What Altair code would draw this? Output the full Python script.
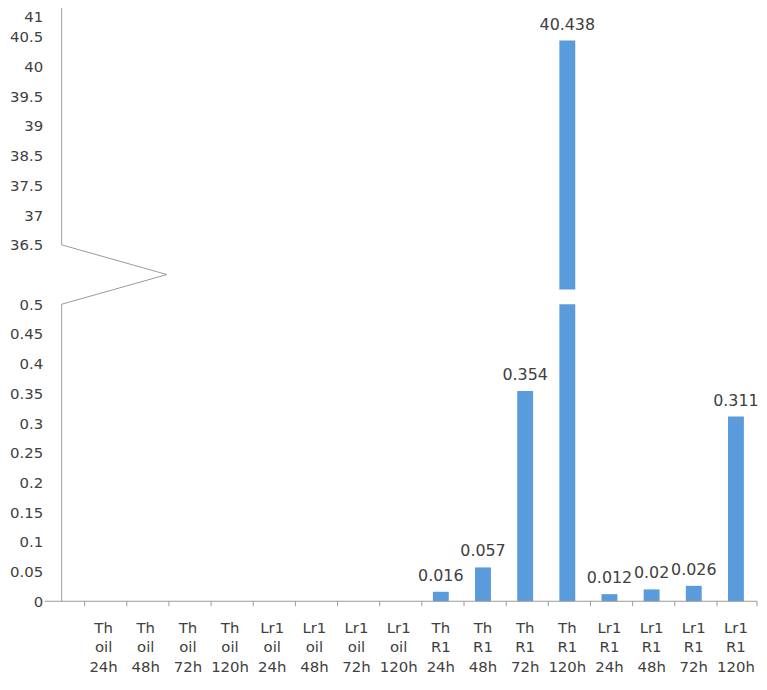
import altair as alt
import pandas as pd

# ---- data ----
categories = [
    "Th oil 24h", "Th oil 48h", "Th oil 72h", "Th oil 120h",
    "Lr1 oil 24h", "Lr1 oil 48h", "Lr1 oil 72h", "Lr1 oil 120h",
    "Th R1 24h", "Th R1 48h", "Th R1 72h", "Th R1 120h",
    "Lr1 R1 24h", "Lr1 R1 48h", "Lr1 R1 72h", "Lr1 R1 120h",
]
values = [0, 0, 0, 0, 0, 0, 0, 0,
          0.016, 0.057, 0.354, 40.438,
          0.012, 0.02, 0.026, 0.311]
value_labels = ["", "", "", "", "", "", "", "",
                "0.016", "0.057", "0.354", "40.438",
                "0.012", "0.02", "0.026", "0.311"]

# y tick labels (broken axis: lower 0..0.5, upper 36.5..41)
lower_ticks = [0, 0.05, 0.1, 0.15, 0.2, 0.25, 0.3, 0.35, 0.4, 0.45, 0.5]
upper_ticks = [36.5, 37, 37.5, 38.5, 39, 39.5, 40, 40.5, 41]

# ---- layout / style ----
W, H = 679, 595
STEP = 29.9
BREAK_LOW = 0.5          # top of lower panel
BREAK_PIECE_VALUE = 9.5  # where the upper bar piece stops inside the break
Y_DOMAIN = [0, 0.5] + upper_ticks
Y_RANGE = [H, H - 10 * STEP] + [H - 12 * STEP - k * STEP for k in range(len(upper_ticks))]
AXIS_X = -21                # x of the drawn y axis line
ZIG_TIP_X = 85
BAR_COLOR = "#5A9BDC"
AXIS_COLOR = "#9a9a9a"
TEXT_COLOR = "#404040"
FONT = "DejaVu Sans"

y_top_start = Y_RANGE[2]    # pixel of 36.5
y_low_end = Y_RANGE[1]      # pixel of 0.5
y_mid = (y_top_start + y_low_end) / 2

df = pd.DataFrame({"cat": categories, "v": values, "lab": value_labels})

xscale = alt.Scale(domain=categories)
yscale = alt.Scale(domain=Y_DOMAIN, range=Y_RANGE, nice=False, zero=False)

top_test = f"datum.value == {max(upper_ticks)}"
xaxis = alt.Axis(labelExpr="split(datum.label, ' ')", labelAngle=0,
                 labelLineHeight=20, labelBaseline="top", labelPadding=19,
                 labelFont=FONT, labelFontSize=15, labelColor=TEXT_COLOR,
                 labelOverlap=False, domain=False, ticks=False, grid=False, title=None)
yaxis = alt.Axis(values=lower_ticks + upper_ticks,
                 labelExpr="format(datum.value, '.6~g')",
                 labelBaseline=alt.condition(top_test, alt.value("top"), alt.value("middle")),
                 labelOffset=alt.condition(top_test, alt.value(2), alt.value(0)),
                 labelOverlap=False, labelBound=False, labelFlush=False,
                 domain=False, ticks=False, grid=False, tickSize=0,
                 labelPadding=40, labelFont=FONT, labelFontSize=15,
                 labelColor=TEXT_COLOR, title=None)

base = alt.Chart(df)

lower_bars = base.transform_filter("datum.v > 0").transform_calculate(
    lo=f"min(datum.v, {BREAK_LOW})", zero="0"
).mark_bar(size=16, color=BAR_COLOR).encode(
    x=alt.X("cat:N", sort=categories, scale=xscale, axis=xaxis),
    y=alt.Y("lo:Q", scale=yscale, stack=None, axis=yaxis),
    y2="zero:Q",
)

upper_bars = base.transform_filter(f"datum.v > {BREAK_LOW}").transform_calculate(
    brk=str(BREAK_PIECE_VALUE)
).mark_bar(size=16, color=BAR_COLOR).encode(
    x=alt.X("cat:N", sort=categories, scale=xscale, axis=xaxis),
    y=alt.Y("v:Q", scale=yscale, stack=None, axis=yaxis),
    y2="brk:Q",
)

labels = base.transform_filter("datum.v > 0").mark_text(
    baseline="middle", dy=-16, font=FONT, fontSize=16, color=TEXT_COLOR
).encode(
    x=alt.X("cat:N", sort=categories, scale=xscale, axis=xaxis),
    y=alt.Y("v:Q", scale=yscale, axis=yaxis),
    text="lab:N",
)

ticks = base.mark_rule(color=AXIS_COLOR, strokeWidth=1).encode(
    x=alt.X("cat:N", sort=categories, scale=xscale, bandPosition=0, axis=xaxis),
    y=alt.value(H), y2=alt.value(H + 5),
)

one = alt.Chart(pd.DataFrame({"k": [0]}))
deco = [
    # x axis line
    one.mark_rule(color=AXIS_COLOR).encode(x=alt.value(-38), x2=alt.value(W), y=alt.value(H)),
    # last tick at right end
    one.mark_rule(color=AXIS_COLOR).encode(x=alt.value(W), y=alt.value(H), y2=alt.value(H + 5)),
    # y axis line, upper part
    one.mark_rule(color=AXIS_COLOR).encode(x=alt.value(AXIS_X), y=alt.value(Y_RANGE[-1]), y2=alt.value(y_top_start)),
    # y axis line, lower part
    one.mark_rule(color=AXIS_COLOR).encode(x=alt.value(AXIS_X), y=alt.value(y_low_end), y2=alt.value(H)),
    # zigzag break
    one.mark_rule(color=AXIS_COLOR).encode(x=alt.value(AXIS_X), x2=alt.value(ZIG_TIP_X),
                                           y=alt.value(y_top_start), y2=alt.value(y_mid)),
    one.mark_rule(color=AXIS_COLOR).encode(x=alt.value(ZIG_TIP_X), x2=alt.value(AXIS_X),
                                           y=alt.value(y_mid), y2=alt.value(y_low_end)),
]

chart = alt.layer(lower_bars, upper_bars, labels, ticks, *deco).properties(
    width=W, height=H,
    autosize=alt.AutoSizeParams(type="none"),
    padding={"left": 75, "top": 0, "right": 2, "bottom": 72},
    background="white",
).configure_view(stroke=None)

chart.save("out.html", embed_options={"renderer": "svg", "actions": False})
